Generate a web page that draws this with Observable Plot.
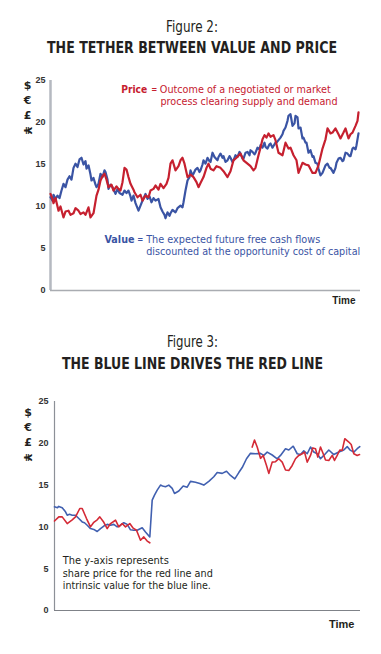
<!DOCTYPE html>
<html>
<head>
<meta charset="utf-8">
<script src="https://cdn.jsdelivr.net/npm/d3@7"></script>
<script src="https://cdn.jsdelivr.net/npm/@observablehq/plot@0.6"></script>
<style>
  html, body { margin: 0; padding: 0; background: #fff; }
  #page { width: 381px; }
  #page svg { display: block; }
  .ttl { font-family: "DejaVu Sans Condensed", "Liberation Sans", sans-serif; fill: #231f20; }
</style>
</head>
<body>
<div id="page">
  <svg width="381" height="70" id="t1">
    <text class="ttl" x="192" y="32" text-anchor="middle" font-size="15" textLength="52" lengthAdjust="spacingAndGlyphs">Figure 2:</text>
    <text class="ttl" x="192" y="53" text-anchor="middle" font-size="16" font-weight="bold" textLength="290" lengthAdjust="spacingAndGlyphs">THE TETHER BETWEEN VALUE AND PRICE</text>
  </svg>
  <div id="c1"></div>
  <svg width="381" height="80" id="t2">
    <text class="ttl" x="192.5" y="37" text-anchor="middle" font-size="15" textLength="51" lengthAdjust="spacingAndGlyphs">Figure 3:</text>
    <text class="ttl" x="192.5" y="59" text-anchor="middle" font-size="16" font-weight="bold" textLength="261" lengthAdjust="spacingAndGlyphs">THE BLUE LINE DRIVES THE RED LINE</text>
  </svg>
  <div id="c2"></div>
</div>
<script>
// ---------- DATA ----------
const yTicks = [0, 5, 10, 15, 20, 25];
const currencySymbols = ["$", "€", "£", "¥"];
const timeLabel = "Time";

// Figure 2: value (blue) and price (red); [time, amount]
const valueFig2 = [[0,11.1],[2,10.7],[3,11.4],[5,10.9],[7,11.3],[9,11.0],[11,11.9],[13,12.7],[15,12.3],[17,13.2],[19,13.6],[21,13.2],[23,14.6],[25,15.1],[27,14.7],[29,15.6],[31,15.8],[33,15.0],[35,15.4],[36,14.5],[38,14.9],[40,13.8],[41,13.1],[43,13.4],[45,12.6],[46,12.3],[48,12.7],[50,13.9],[52,13.5],[54,14.3],[55,14.1],[57,13.2],[58,12.1],[60,12.6],[62,12.3],[65,11.5],[67,12.1],[69,11.6],[72,11.4],[74,11.9],[76,11.6],[78,11.9],[80,11.2],[81,10.7],[83,11.3],[85,10.4],[88,9.5],[90,10.1],[92,10.7],[95,11.5],[97,10.9],[99,11.2],[101,10.5],[103,11.0],[105,10.7],[108,10.9],[110,9.9],[112,9.4],[114,9.0],[115,8.6],[117,9.3],[119,8.9],[120,9.2],[122,9.6],[125,9.3],[127,9.8],[130,10.1],[132,9.9],[133,10.5],[135,11.9],[137,13.1],[139,13.5],[140,14.3],[142,13.7],[143,13.9],[145,14.4],[147,14.6],[149,14.1],[150,14.3],[152,15.0],[153,15.5],[155,15.1],[157,15.8],[159,15.4],[160,15.3],[162,16.4],[164,15.9],[167,15.5],[168,15.9],[170,16.3],[172,15.8],[173,16.0],[175,15.3],[177,15.5],[179,16.0],[180,15.8],[182,15.3],[183,15.5],[185,16.1],[187,15.9],[189,16.5],[190,16.3],[192,15.7],[193,15.7],[195,16.4],[197,16.5],[199,16.1],[200,16.7],[202,16.5],[204,16.2],[205,16.4],[207,17.0],[209,16.8],[210,17.3],[212,17.0],[214,17.6],[215,17.1],[217,16.9],[219,17.4],[220,17.5],[222,17.0],[223,17.2],[225,17.6],[226,17.6],[228,17.9],[230,18.2],[232,18.6],[233,19.0],[235,19.4],[237,20.2],[238,20.8],[240,21.0],[241,20.3],[242,19.6],[244,19.9],[245,20.8],[247,20.6],[248,19.3],[250,19.4],[252,18.1],[253,18.2],[255,17.6],[256,17.6],[258,16.4],[260,16.7],[262,15.9],[263,16.0],[265,15.2],[267,15.1],[268,14.5],[270,13.7],[272,14.0],[273,14.3],[275,14.9],[277,15.1],[279,14.6],[280,14.6],[283,14.0],[285,14.6],[286,15.2],[288,15.7],[290,15.8],[292,15.4],[293,15.5],[295,16.4],[297,16.3],[299,16.0],[300,16.0],[302,16.9],[303,17.0],[305,16.8],[306,17.3],[308,18.7]];

const priceFig2 = [[0,11.5],[2,10.9],[3,10.4],[5,11.0],[8,9.5],[10,10.0],[13,8.7],[15,9.4],[18,9.5],[20,9.0],[23,9.2],[25,9.8],[28,9.5],[30,9.1],[33,9.3],[35,9.0],[38,9.9],[40,8.7],[43,9.2],[46,11.3],[48,12.0],[50,13.1],[52,13.6],[54,13.9],[56,13.2],[58,12.3],[61,12.6],[63,11.9],[66,12.4],[68,12.1],[70,11.9],[72,12.9],[74,14.6],[76,14.4],[78,13.5],[80,12.7],[83,12.0],[84,11.7],[87,11.1],[90,11.4],[92,10.7],[95,11.3],[98,11.1],[100,11.9],[103,12.1],[105,12.5],[108,12.0],[110,12.7],[113,12.2],[116,12.7],[118,13.4],[120,15.1],[122,15.5],[125,14.3],[128,14.8],[130,15.5],[132,15.8],[134,15.1],[137,13.5],[140,13.8],[143,13.5],[146,12.9],[148,12.3],[150,12.8],[153,13.5],[156,14.6],[158,15.1],[160,14.5],[163,14.3],[166,14.8],[170,14.6],[173,14.2],[177,13.5],[180,14.2],[183,15.5],[186,15.8],[190,16.3],[193,15.5],[197,15.1],[200,14.8],[203,14.3],[205,14.6],[208,16.1],[210,17.0],[212,18.0],[214,18.5],[216,18.2],[218,18.7],[220,18.3],[223,18.5],[225,17.9],[228,16.4],[232,16.1],[235,17.6],[238,16.9],[240,17.0],[243,16.1],[246,15.5],[248,14.0],[252,15.2],[255,15.0],[258,14.9],[262,14.0],[265,14.0],[268,14.9],[272,16.9],[275,18.0],[277,19.3],[280,18.7],[282,18.8],[285,19.3],[288,18.6],[290,18.1],[293,18.8],[295,19.3],[298,18.1],[300,18.6],[302,18.8],[305,19.6],[307,20.2],[308,21.2]];

// Figure 3: intrinsic value (blue) and share price (red, two stretches)
const valueFig3 = [[0,12.4],[3,12.3],[4.3,12.45],[7.7,12.3],[11,11.8],[12.7,11.4],[15,11.5],[17.7,11.4],[21,11.4],[24.3,11.0],[27.7,10.6],[30,10.5],[32.7,10.2],[36,9.8],[39.3,9.7],[42.7,9.45],[46,9.8],[49.3,10.1],[52.7,10.3],[56,10.2],[59.3,10.3],[62.7,10.0],[66,10.2],[69.3,10.5],[72.7,10.3],[76,9.65],[79.3,9.6],[82.7,9.6],[87.7,9.9],[91,9.4],[95.3,8.8],[97.7,13.2],[100,13.8],[102.7,14.4],[106,15.0],[108,14.9],[111,14.8],[114.3,15.0],[117.7,14.6],[120,14.0],[124.3,14.3],[128.7,14.9],[132.7,14.75],[136,15.45],[141,15.35],[145.3,15.2],[149.3,15.0],[154.3,15.45],[159.3,16.0],[162.7,16.5],[167.7,16.4],[172,16.65],[176,16.15],[180.3,15.75],[184.3,16.5],[187.7,17.1],[192,18.15],[196,18.8],[201,18.75],[206,18.8],[209.3,18.55],[212.7,18.95],[217.7,18.6],[222.7,18.15],[226,18.55],[231,19.35],[234.3,19.2],[238.7,19.65],[242.7,18.75],[246,18.65],[249.3,19.1],[252.7,18.75],[256,19.55],[259.3,18.95],[262.7,18.75],[266,18.15],[269.3,18.55],[274.3,19.2],[279.3,18.65],[284.3,18.95],[289.3,19.2],[292.7,19.6],[296,19.15],[299.3,18.95],[302.7,19.35],[305.3,19.6]];

const priceFig3Early = [[0,10.7],[4.3,11.2],[7.7,11.2],[12.7,10.4],[17.7,10.85],[21,11.2],[25.3,12.2],[27.7,12.2],[32,11.0],[36,10.0],[39.3,10.55],[42.7,10.85],[45.3,11.2],[49.3,10.55],[52.7,9.8],[56,10.4],[61,10.8],[64.3,10.0],[67.7,10.4],[71,10.0],[75.3,10.4],[78.7,9.85],[82,9.6],[86,8.4],[89.3,8.8],[92.7,8.3],[95.3,8.1]];

const priceFig3Late = [[197.7,19.55],[200,20.4],[202.7,19.55],[206,18.2],[208.7,18.55],[212,17.35],[214.3,16.4],[217.7,17.75],[221,17.8],[224.3,18.15],[227.7,17.75],[231,16.8],[234.3,16.75],[237.7,17.35],[241,18.15],[244.3,18.55],[247.7,18.75],[250,18.95],[252.7,17.75],[256,18.55],[258.3,19.45],[261,19.35],[263.3,18.35],[266,19.55],[268.7,18.75],[271,18.0],[274.3,17.95],[277.7,18.55],[280,17.95],[282.7,18.55],[285.3,19.2],[287.7,19.15],[290.3,20.55],[294.3,20.15],[296.7,19.85],[299.3,18.75],[302.7,18.55],[305,18.65]];

// Annotations: anchor [time, amount] at text baseline start, target width
const notesFig2 = [
  {t: 70.7, v: 23.57, text: "Price", color: "red", bold: true, w: 26},
  {t: 100.7, v: 23.57, text: "=", color: "red", bold: false, w: 6},
  {t: 109.3, v: 23.57, text: "Outcome of a negotiated or market", color: "red", bold: false, w: 171},
  {t: 110, v: 22.1, text: "process clearing supply and demand", color: "red", bold: false, w: 177},
  {t: 54, v: 5.71, text: "Value", color: "blue", bold: true, w: 30},
  {t: 86.7, v: 5.71, text: "=", color: "blue", bold: false, w: 6},
  {t: 95.7, v: 5.71, text: "The expected future free cash flows", color: "blue", bold: false, w: 174},
  {t: 95.7, v: 4.17, text: "discounted at the opportunity cost of capital", color: "blue", bold: false, w: 214}
];
const notesFig3 = [
  {t: 8.3, v: 5.55, text: "The y-axis represents", w: 106},
  {t: 8.3, v: 3.98, text: "share price for the red line and", w: 150},
  {t: 8.3, v: 2.55, text: "intrinsic value for the blue line.", w: 148}
];

// ---------- STYLE ----------
const RED2 = "#c6202f", BLUE2 = "#3a54a4";
const RED3 = "#d42a36", BLUE3 = "#4160b0";
const COND = "DejaVu Sans Condensed, Liberation Sans, sans-serif";

function fitTexts(svg, notes) {
  const widths = new Map(notes.map(n => [n.text, n.w]));
  svg.querySelectorAll("text").forEach(el => {
    const w = widths.get(el.textContent);
    if (w) { el.setAttribute("textLength", w); el.setAttribute("lengthAdjust", "spacingAndGlyphs"); }
  });
}

// stacked currency symbols used as the y-axis label
function symbolMarks(dx, dy0, step) {
  return currencySymbols.map((s, i) =>
    Plot.text([s], {text: d => d, frameAnchor: "top-left", dx, dy: dy0 + i * step,
      rotate: s === "¥" ? 90 : 0, textAnchor: "middle", lineAnchor: "middle",
      fontSize: 11, fontWeight: "bold", fill: "#231f20", fontFamily: "DejaVu Sans, sans-serif"}));
}

// ---------- FIGURE 2 ----------
const p1 = Plot.plot({
  width: 381, height: 240,
  marginLeft: 50, marginRight: 21, marginTop: 10, marginBottom: 20,
  style: {fontFamily: "Liberation Sans, Arial, sans-serif", background: "#fff"},
  x: {domain: [0, 310], axis: null},
  y: {domain: [0, 25], axis: null},
  marks: [
    Plot.axisY({ticks: yTicks, tickSize: 0, tickPadding: 5, fontSize: 9, fontWeight: "bold", fill: "#333", label: null}),
    Plot.ruleX([0], {stroke: "#b5b9c0", strokeWidth: 2.5}),
    Plot.ruleY([0], {stroke: "#a9acb1", strokeWidth: 1.5}),
    Plot.line(valueFig2, {x: d => d[0], y: d => d[1], stroke: BLUE2, strokeWidth: 2.2}),
    Plot.line(priceFig2, {x: d => d[0], y: d => d[1], stroke: RED2, strokeWidth: 2.2}),
    Plot.text(notesFig2, {x: "t", y: "v", text: "text", textAnchor: "start", lineAnchor: "bottom",
      fill: d => d.color === "red" ? RED2 : BLUE2,
      fontSize: 11, fontFamily: COND}),
    Plot.text([timeLabel], {text: d => d, frameAnchor: "bottom-right", dx: -5, dy: 13, lineAnchor: "bottom", textAnchor: "end", fontSize: 10, fontWeight: "bold", fill: "#231f20"}),
    ...symbolMarks(-23, 5, 15)
  ]
});
p1.querySelectorAll("text").forEach(el => {
  const n = notesFig2.find(n => n.text === el.textContent);
  if (n) el.setAttribute("font-weight", n.bold ? "bold" : "normal");
});
fitTexts(p1, notesFig2);
document.getElementById("c1").appendChild(p1);

// ---------- FIGURE 3 ----------
const p2 = Plot.plot({
  width: 381, height: 240,
  marginLeft: 54, marginRight: 21, marginTop: 11, marginBottom: 20,
  style: {fontFamily: "Liberation Sans, Arial, sans-serif", background: "#fff"},
  x: {domain: [0, 306], axis: null},
  y: {domain: [0, 25], axis: null},
  marks: [
    Plot.axisY({ticks: yTicks, tickSize: 0, tickPadding: 6, fontSize: 9, fontWeight: "bold", fill: "#333", label: null}),
    Plot.ruleX([0], {stroke: "#8c9097", strokeWidth: 1.2}),
    Plot.ruleY([0], {stroke: "#7f8288", strokeWidth: 1.2}),
    Plot.line(valueFig3, {x: d => d[0], y: d => d[1], stroke: BLUE3, strokeWidth: 1.6}),
    Plot.line(priceFig3Early, {x: d => d[0], y: d => d[1], stroke: RED3, strokeWidth: 1.6}),
    Plot.line(priceFig3Late, {x: d => d[0], y: d => d[1], stroke: RED3, strokeWidth: 1.6}),
    Plot.text(notesFig3, {x: "t", y: "v", text: "text", textAnchor: "start", lineAnchor: "bottom",
      fill: "#231f20", fontSize: 11, fontFamily: COND}),
    Plot.text([timeLabel], {text: d => d, frameAnchor: "bottom-right", dx: -6, dy: 17, lineAnchor: "bottom", textAnchor: "end", fontSize: 11, fontWeight: "bold", fill: "#231f20"}),
    ...symbolMarks(-26.5, 11, 15)
  ]
});
fitTexts(p2, notesFig3);
document.getElementById("c2").appendChild(p2);
</script>
</body>
</html>
